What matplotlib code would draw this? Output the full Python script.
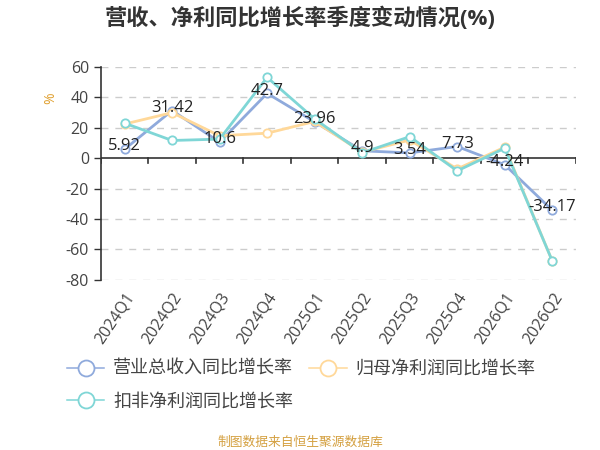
import numpy as np
import matplotlib
matplotlib.use("Agg")
import matplotlib.pyplot as plt
from matplotlib.lines import Line2D

plt.rcParams['font.family'] = ['Open Sans', 'Noto Sans CJK SC', 'DejaVu Sans']
plt.rcParams['axes.unicode_minus'] = False

quarters = ["2024Q1", "2024Q2", "2024Q3", "2024Q4", "2025Q1",
            "2025Q2", "2025Q3", "2025Q4", "2026Q1", "2026Q2"]
revenue_yoy = [5.92, 31.42, 10.6, 42.7, 23.96, 4.9, 3.54, 7.73, -4.24, -34.17]
net_profit_yoy = [22.5, 30.0, 14.8, 16.5, 24.2, 4.0, 12.0, -7.0, 7.3, -67.5]
deducted_profit_yoy = [23.1, 11.7, 12.6, 53.2, 25.9, 3.6, 14.2, -8.3, 6.6, -67.5]

series_names = ["营业总收入同比增长率", "归母净利润同比增长率", "扣非净利润同比增长率"]
colors = ["#8FAADC", "#FFD899", "#7FD6D6"]

fig = plt.figure(figsize=(6, 4.5), dpi=100)
ax = fig.add_axes([0.168, 0.378, 0.792, 0.473])

x = np.arange(len(quarters))
all_series = [revenue_yoy, net_profit_yoy, deducted_profit_yoy]
draw_order = [1, 0, 2]  # teal on top like the reference
for i in draw_order:
    ax.plot(x, all_series[i], color=colors[i], linewidth=2.0, marker='o',
            markersize=6, markerfacecolor='white', markeredgecolor=colors[i],
            markeredgewidth=1.3, zorder=3 + i)

# value labels for revenue series
for xi, v in zip(x, revenue_yoy):
    ax.annotate(f"{v:g}", (xi, v), xytext=(0, 2), textcoords='offset points',
                ha='center', va='center', fontsize=12, color='#222222', zorder=10)

ax.set_xlim(-0.5, len(quarters) - 0.5)
ax.set_ylim(-80, 60)
ax.set_yticks(np.arange(-80, 61, 20))
ax.tick_params(axis='y', labelsize=11.5, labelcolor='#444444', length=5, color='#333333', width=1)
for yv in np.arange(-80, 61, 20):
    if yv != 0:
        ax.axhline(yv, color='#CCCCCC', linestyle=(0, (5, 5)), linewidth=1, zorder=1)

# x axis line at zero with ticks at category boundaries
ax.axhline(0, color='#333333', linewidth=1.2, zorder=2)
for b in np.arange(-0.5, len(quarters), 1.0):
    ax.plot([b, b], [0, -3.2], color='#333333', linewidth=1.2, zorder=2)

ax.set_xticks(x)
ax.set_xticklabels(quarters, rotation=56, ha='right', rotation_mode='anchor',
                   fontsize=11.5, color='#444444')
ax.tick_params(axis='x', length=0, pad=7)

for s in ['top', 'right', 'bottom']:
    ax.spines[s].set_visible(False)
ax.spines['left'].set_color('#333333')
ax.spines['left'].set_linewidth(1.2)

ax.set_ylabel('%', color='#E0A030', fontsize=10)
ax.yaxis.set_label_coords(-0.09, 0.854)

fig.text(0.5, 0.96, "营收、净利同比增长率季度变动情况(%)", ha='center', va='center',
         fontsize=16, fontweight='bold', color='#333333')

handles = [Line2D([0], [0], color=c, linewidth=1.1, marker='o', markersize=11.5,
                  markerfacecolor='white', markeredgecolor=c, markeredgewidth=1.3)
           for c in colors]
order = [0, 2, 1]  # column-wise fill: blue, teal | orange
fig.legend([handles[k] for k in order], [series_names[k] for k in order],
           loc='upper left', bbox_to_anchor=(0.112, 0.2),
           bbox_transform=fig.transFigure, ncol=2, frameon=False, fontsize=13,
           labelcolor='#444444', handlelength=2.05, handletextpad=0.5,
           columnspacing=0.9, labelspacing=0.8, borderpad=0, borderaxespad=0)

fig.text(0.5, 0.018, "制图数据来自恒生聚源数据库", ha='center', va='center',
         fontsize=9.2, color='#D4A040')

fig.savefig("out.png", dpi=100)
